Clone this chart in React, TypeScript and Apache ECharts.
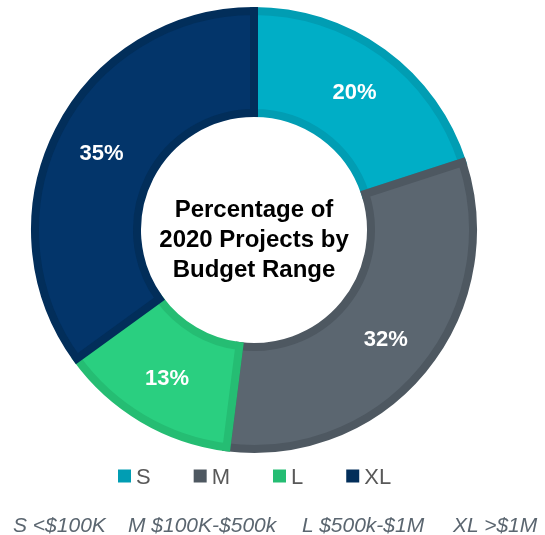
import React, { useEffect, useRef } from "react";
import * as echarts from "echarts";

const categories = ["S", "M", "L", "XL"];
const values = [20, 32, 13, 35];
const fillColors = ["#00AEC6", "#5B6670", "#2ACF80", "#03356A"];
const borderColors = ["#019DB3", "#4E5861", "#25BD73", "#022E5A"];
const centerTitle = "Percentage of\n2020 Projects by\nBudget Range";
const footnoteParts = ["S <$100K", "M $100K-$500k", "L $500k-$1M", "XL >$1M"];
const footnoteX = [13, 128, 302, 453];

export default function App() {
  const ref = useRef<HTMLDivElement>(null);
  useEffect(() => {
    if (!ref.current) return;
    const chart = echarts.init(ref.current, null, { renderer: "svg" });
    chart.setOption({
      animation: false,
      legend: {
        left: 118,
        top: 465,
        padding: 0,
        itemWidth: 13,
        itemHeight: 13,
        itemGap: 43,
        icon: "rect",
        itemStyle: { borderWidth: 0 },
        textStyle: { fontSize: 22, color: "#595959", fontFamily: "Liberation Sans" },
        data: categories.map((c, i) => ({ name: c, itemStyle: { color: borderColors[i], borderWidth: 0 } })),
      },
      graphic: [
        {
          type: "text",
          x: 254,
          y: 238,
          style: {
            text: centerTitle,
            fontSize: 24,
            fontWeight: "bold",
            lineHeight: 30,
            fill: "#000",
            align: "center",
            verticalAlign: "middle",
            fontFamily: "Liberation Sans",
          },
        },
        ...footnoteParts.map((t, i) => ({
          type: "text",
          x: footnoteX[i],
          y: 524,
          style: {
            text: t,
            fontSize: 21,
            fontStyle: "italic",
            fill: "#5B6670",
            verticalAlign: "middle",
            fontFamily: "Liberation Sans",
          },
        })),
      ],
      series: [
        {
          type: "pie",
          center: [254, 230],
          radius: [117, 219],
          startAngle: 90,
          clockwise: true,
          label: {
            show: true,
            position: "inside",
            formatter: "{c}%",
            color: "#fff",
            fontSize: 22,
            fontWeight: "bold",
            fontFamily: "Liberation Sans",
          },
          labelLine: { show: false },
          emphasis: { disabled: true },
          data: categories.map((c, i) => ({
            name: c,
            value: values[i],
            itemStyle: {
              color: fillColors[i],
              borderColor: borderColors[i],
              borderWidth: 8,
              borderJoin: "miter",
              borderRadius: 0,
            },
          })),
        },
      ],
    });
    return () => chart.dispose();
  }, []);
  return <div ref={ref} style={{ position: "fixed", left: 0, top: 0, width: 545, height: 535 }} />;
}
